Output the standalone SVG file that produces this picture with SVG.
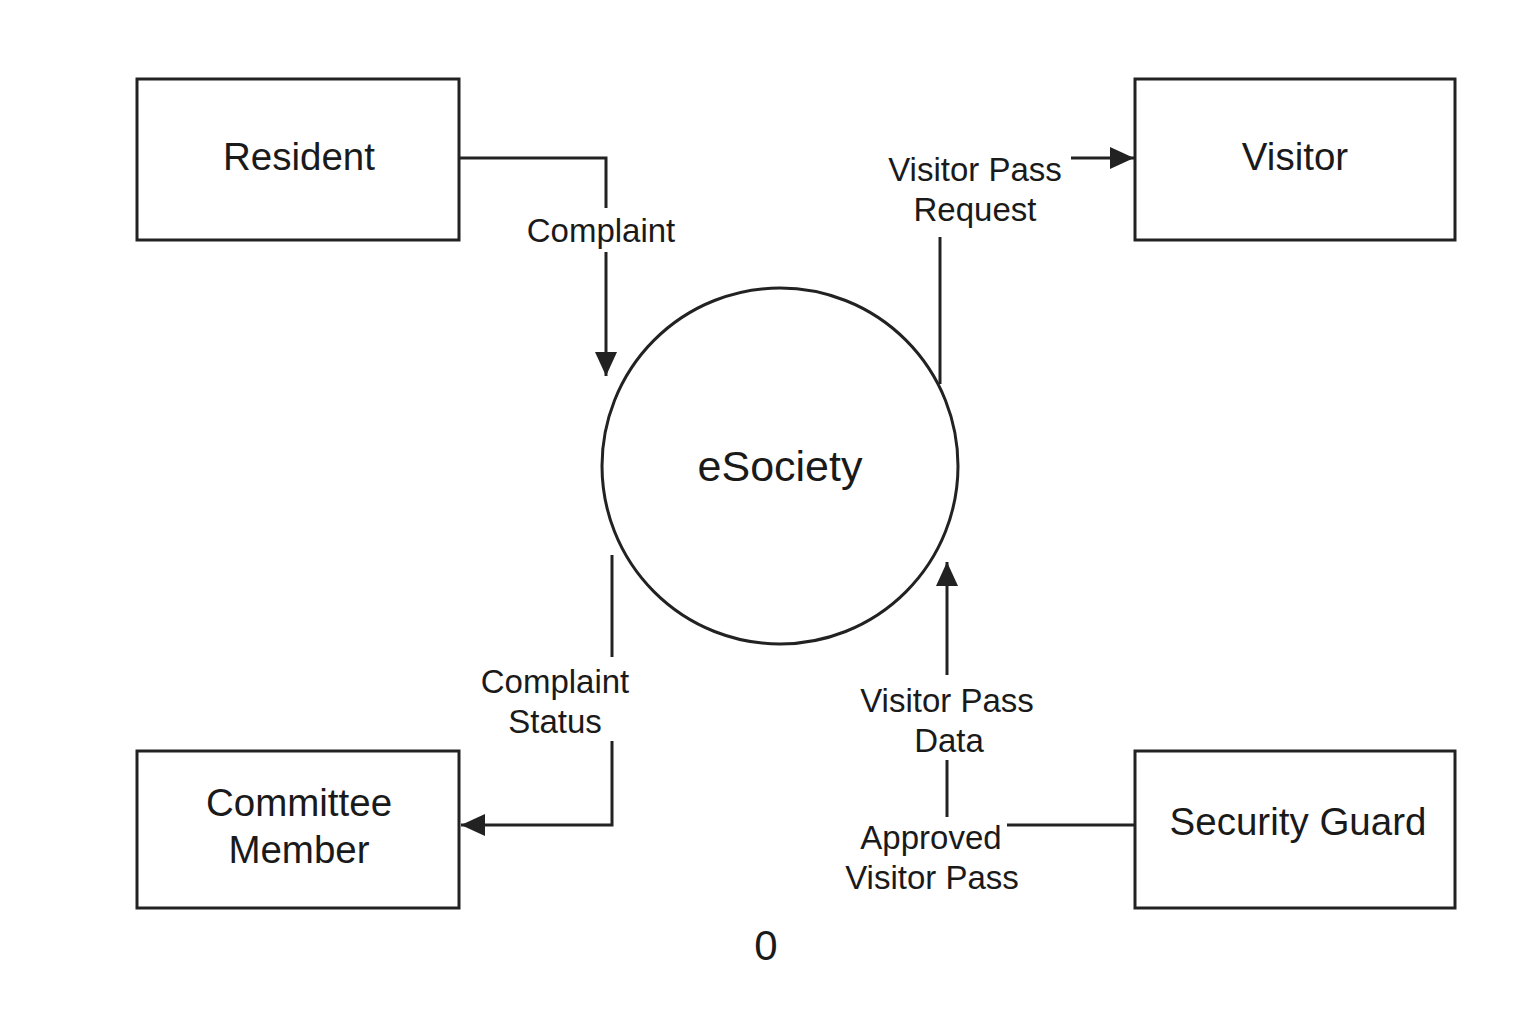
<svg xmlns="http://www.w3.org/2000/svg" width="1536" height="1024" viewBox="0 0 1536 1024">
<style>
.box{fill:#fff;stroke:#222;stroke-width:3}
.proc{fill:#fff;stroke:#222;stroke-width:3}
.line{fill:none;stroke:#222;stroke-width:3}
.t{font-family:"Liberation Sans",Arial,sans-serif;fill:#1a1a1a;text-anchor:middle}
.big{font-size:38.5px}
.lbl{font-size:33px}
</style>
<defs>
<marker id="arr" viewBox="0 0 24 24" refX="24" refY="12" markerWidth="24" markerHeight="24" markerUnits="userSpaceOnUse" orient="auto">
<path d="M0,1 L24,12 L0,23 Z" fill="#222"/>
</marker>
</defs>
<rect width="1536" height="1024" fill="#fff"/>
<g id="connectors">
<path class="line" d="M459,158 H606 V208"/>
<path class="line" d="M606,252 V376" marker-end="url(#arr)"/>
<path class="line" d="M940,384 V237"/>
<path class="line" d="M1071,158 H1134" marker-end="url(#arr)"/>
<path class="line" d="M612,555 V657"/>
<path class="line" d="M612,741 V825 H461" marker-end="url(#arr)"/>
<path class="line" d="M1135,825 H1007"/>
<path class="line" d="M947,817 V760"/>
<path class="line" d="M947,675 V562" marker-end="url(#arr)"/>
<text class="t lbl" x="601" y="242">Complaint</text>
<text class="t lbl" x="975" y="181">Visitor Pass</text>
<text class="t lbl" x="975" y="221">Request</text>
<text class="t lbl" x="555" y="693">Complaint</text>
<text class="t lbl" x="555" y="733">Status</text>
<text class="t lbl" x="947" y="712">Visitor Pass</text>
<text class="t lbl" x="949" y="752">Data</text>
<text class="t lbl" x="931" y="849">Approved</text>
<text class="t lbl" x="932" y="889">Visitor Pass</text>
</g>
<g id="resident">
<rect class="box" x="137" y="79" width="322" height="161"/>
<text class="t big" x="299" y="170">Resident</text>
</g>
<g id="visitor">
<rect class="box" x="1135" y="79" width="320" height="161"/>
<text class="t big" x="1295" y="170">Visitor</text>
</g>
<g id="committee">
<rect class="box" x="137" y="751" width="322" height="157"/>
<text class="t big" x="299" y="816">Committee</text>
<text class="t big" x="299" y="863">Member</text>
</g>
<g id="security">
<rect class="box" x="1135" y="751" width="320" height="157"/>
<text class="t big" x="1298" y="835">Security Guard</text>
</g>
<g id="esociety">
<circle class="proc" cx="780" cy="466" r="178"/>
<text class="t" style="font-size:43px" x="780" y="481">eSociety</text>
</g>
<text class="t" style="font-size:42px" x="766" y="960">0</text>
</svg>
